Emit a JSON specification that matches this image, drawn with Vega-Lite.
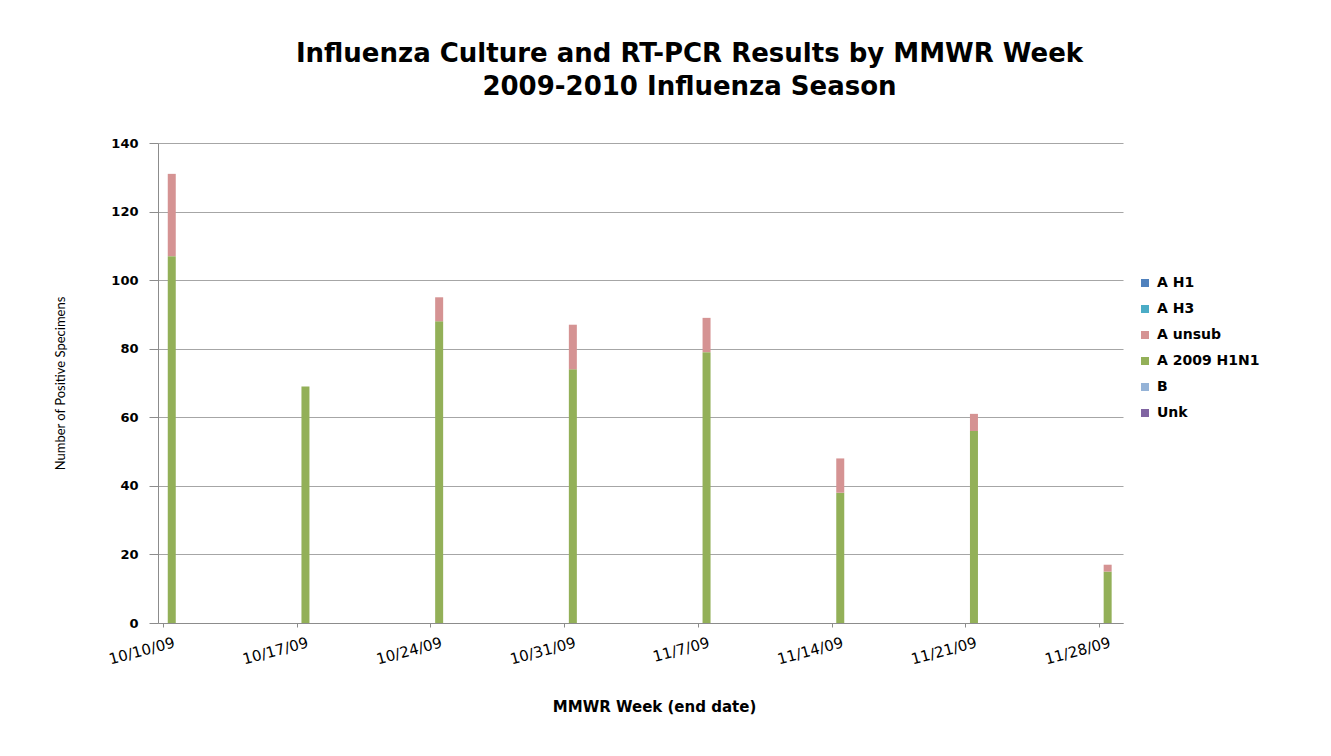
{
  "$schema": "https://vega.github.io/schema/vega-lite/v6.json",
  "width": 965,
  "height": 480,
  "autosize": {"type": "none"},
  "padding": {"left": 158, "top": 143, "right": 208, "bottom": 133},
  "background": "white",
  "config": {
    "font": "DejaVu Sans",
    "view": {"stroke": null}
  },
  "title": {
    "text": ["Influenza Culture and RT-PCR Results by MMWR Week", "2009-2010 Influenza Season"],
    "fontSize": 26,
    "fontWeight": "bold",
    "font": "DejaVu Sans",
    "color": "#000000",
    "anchor": "middle",
    "dx": 49,
    "lineHeight": 33,
    "offset": 37
  },
  "data": {
    "values": [
      {"week": "2009-10-10T11:00:00Z", "series": "A 2009 H1N1", "count": 107},
      {"week": "2009-10-10T11:00:00Z", "series": "A unsub", "count": 24},
      {"week": "2009-10-17T11:00:00Z", "series": "A 2009 H1N1", "count": 69},
      {"week": "2009-10-24T11:00:00Z", "series": "A 2009 H1N1", "count": 88},
      {"week": "2009-10-24T11:00:00Z", "series": "A unsub", "count": 7},
      {"week": "2009-10-31T11:00:00Z", "series": "A 2009 H1N1", "count": 74},
      {"week": "2009-10-31T11:00:00Z", "series": "A unsub", "count": 13},
      {"week": "2009-11-07T11:00:00Z", "series": "A 2009 H1N1", "count": 79},
      {"week": "2009-11-07T11:00:00Z", "series": "A unsub", "count": 10},
      {"week": "2009-11-14T11:00:00Z", "series": "A 2009 H1N1", "count": 38},
      {"week": "2009-11-14T11:00:00Z", "series": "A unsub", "count": 10},
      {"week": "2009-11-21T11:00:00Z", "series": "A 2009 H1N1", "count": 56},
      {"week": "2009-11-21T11:00:00Z", "series": "A unsub", "count": 5},
      {"week": "2009-11-28T11:00:00Z", "series": "A 2009 H1N1", "count": 15},
      {"week": "2009-11-28T11:00:00Z", "series": "A unsub", "count": 2}
    ]
  },
  "mark": {"type": "bar", "width": 8},
  "encoding": {
    "x": {
      "field": "week",
      "type": "temporal",
      "scale": {
        "type": "utc",
        "domain": [
          {"year": 2009, "month": 10, "date": 10, "utc": true},
          {"year": 2009, "month": 11, "date": 29, "utc": true}
        ]
      },
      "axis": {
        "title": "MMWR Week (end date)",
        "titleFont": "DejaVu Sans",
        "titleFontSize": 15,
        "titleFontWeight": "bold",
        "titleColor": "#000000",
        "titleX": 496,
        "titleY": 83,
        "titleBaseline": "middle",
        "values": [
          {"year": 2009, "month": 10, "date": 10, "utc": true},
          {"year": 2009, "month": 10, "date": 17, "utc": true},
          {"year": 2009, "month": 10, "date": 24, "utc": true},
          {"year": 2009, "month": 10, "date": 31, "utc": true},
          {"year": 2009, "month": 11, "date": 7, "utc": true},
          {"year": 2009, "month": 11, "date": 14, "utc": true},
          {"year": 2009, "month": 11, "date": 21, "utc": true},
          {"year": 2009, "month": 11, "date": 28, "utc": true}
        ],
        "format": "%-m/%-d/%y",
        "labelAngle": -15,
        "labelAlign": "right",
        "labelBaseline": "top",
        "labelFont": "DejaVu Sans",
        "labelFontSize": 15,
        "labelColor": "#000000",
        "labelPadding": 8,
        "labelOffset": 9,
        "labelOverlap": false,
        "labelFlush": false,
        "tickSize": 4,
        "tickColor": "#8c8c8c",
        "domainColor": "#8c8c8c",
        "grid": false
      }
    },
    "y": {
      "field": "count",
      "type": "quantitative",
      "stack": "zero",
      "scale": {"domain": [0, 140]},
      "axis": {
        "title": "Number of Positive Specimens",
        "titleFont": "Lato",
        "titleFontSize": 13,
        "titleFontWeight": "normal",
        "titleColor": "#000000",
        "titlePadding": 43,
        "values": [0, 20, 40, 60, 80, 100, 120, 140],
        "labelFont": "DejaVu Sans",
        "labelFontSize": 13,
        "labelFontWeight": "bold",
        "labelColor": "#000000",
        "labelPadding": 11,
        "tickSize": 9,
        "tickColor": "#8c8c8c",
        "domainColor": "#8c8c8c",
        "gridColor": "#a6a6a6",
        "gridWidth": 1.2
      }
    },
    "order": {"field": "series", "type": "ordinal", "sort": "ascending"},
    "color": {
      "field": "series",
      "type": "nominal",
      "scale": {
        "domain": ["A H1", "A H3", "A unsub", "A 2009 H1N1", "B", "Unk"],
        "range": ["#4F81BD", "#4BACC6", "#D59393", "#93B058", "#95B3D7", "#8064A2"]
      },
      "legend": {
        "title": null,
        "orient": "none",
        "legendX": 980,
        "legendY": 133,
        "symbolType": "square",
        "symbolSize": 64,
        "symbolStrokeWidth": 0,
        "labelFont": "DejaVu Sans",
        "labelFontSize": 14,
        "labelFontWeight": "bold",
        "labelColor": "#000000",
        "labelOffset": 5,
        "rowPadding": 12
      }
    }
  }
}
